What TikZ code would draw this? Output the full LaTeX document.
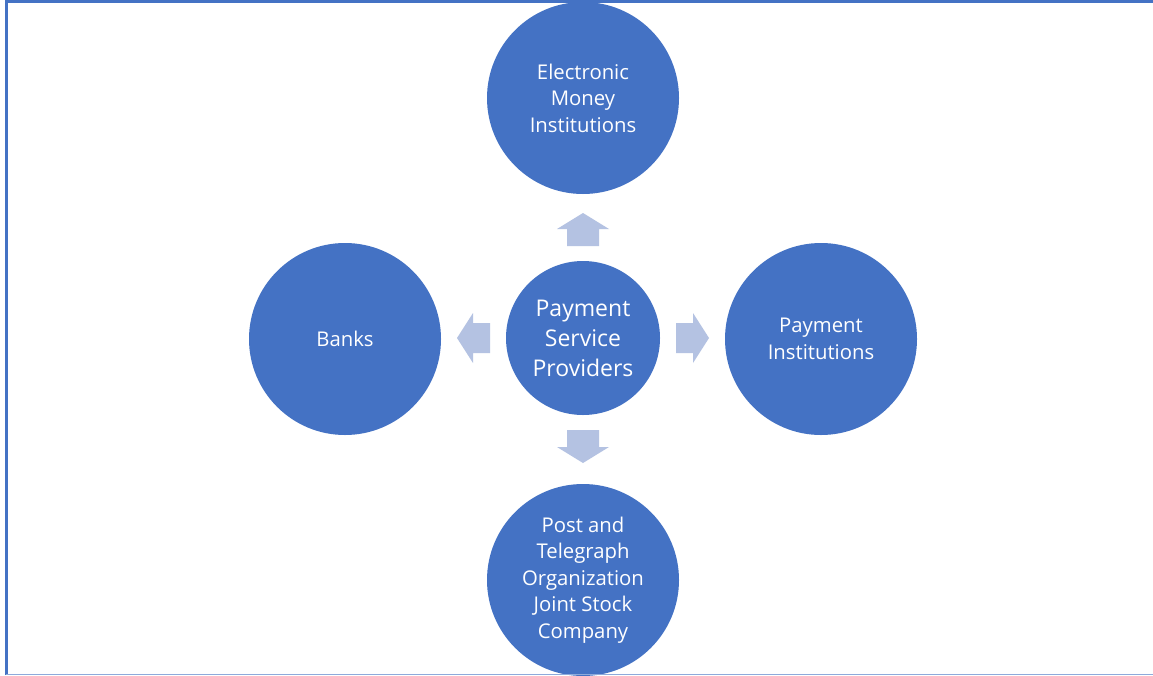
\documentclass[tikz,border=0pt]{standalone}
\usepackage{fontspec}
\setmainfont{Open Sans}
\usetikzlibrary{shapes.arrows}
\definecolor{cblue}{HTML}{4472C4}
\definecolor{alight}{HTML}{B4C2E2}
\definecolor{bline}{HTML}{8EAADB}
\begin{document}
\begin{tikzpicture}[x=1pt,y=-1pt,
  outer/.style={circle,fill=cblue,minimum size=192pt,inner sep=0pt,text=white,font=\fontsize{20.3}{26.5}\selectfont,align=center},
  center/.style={circle,fill=cblue,minimum size=154pt,inner sep=0pt,text=white,font=\fontsize{23}{30}\selectfont,align=center}]
\useasboundingbox (0,0) rectangle (1153,675);
\clip (0,0) rectangle (1153,675);
\fill[white] (0,0) rectangle (1153,675);
\node[center] (c) at (583,338) {Payment\\Service\\Providers};
\node[outer] (t) at (583,98) {Electronic\\Money\\Institutions};
\node[outer] (l) at (345,339) {Banks};
\node[outer] (r) at (821,339) {Payment\\Institutions};
\node[outer] (b) at (583,580) {Post and\\Telegraph\\Organization\\Joint Stock\\Company};
\fill[alight] (567,246) -- (567,229) -- (557,229) -- (583,213) -- (609,229) -- (599,229) -- (599,246) -- cycle;
\fill[alight] (567,430) -- (567,447) -- (557,447) -- (583,463) -- (609,447) -- (599,447) -- (599,430) -- cycle;
\fill[alight] (490,323) -- (473,323) -- (473,313) -- (457,338) -- (473,363) -- (473,353) -- (490,353) -- cycle;
\fill[alight] (676,323) -- (693,323) -- (693,313) -- (709,338) -- (693,363) -- (693,353) -- (676,353) -- cycle;
\draw[cblue,line width=3pt] (6,675) -- (6,1.5) -- (1153,1.5);
\draw[bline,line width=1.2pt] (6,674.4) -- (1153,674.4);
\end{tikzpicture}
\end{document}
